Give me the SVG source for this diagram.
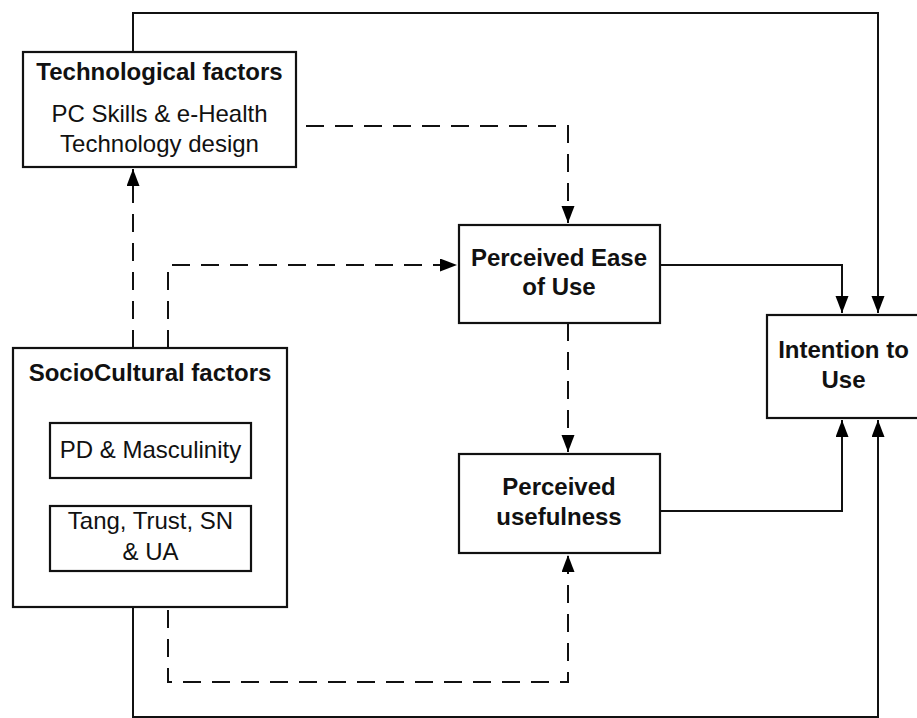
<svg xmlns="http://www.w3.org/2000/svg" width="917" height="718" viewBox="0 0 917 718">
<defs>
<marker id="ah" markerUnits="userSpaceOnUse" markerWidth="18" markerHeight="14" refX="17" refY="6.5" orient="auto">
<path d="M0,0 L17,6.5 L0,13 z" fill="#000"/>
</marker>
<style>
.box{fill:#fff;stroke:#111;stroke-width:2.2}
.t{font-family:"Liberation Sans",Arial,sans-serif;font-size:24px;fill:#111;text-anchor:middle}
.b{font-weight:bold}
.c{fill:none;stroke:#111;stroke-width:2}
.d{stroke-dasharray:18 11}
</style>
</defs>
<rect width="917" height="718" fill="#fff"/>
<g id="connectors">
<path class="c" d="M133,52 V13 H878 V313" marker-end="url(#ah)"/>
<path class="c d" d="M133,348 V169" marker-end="url(#ah)"/>
<path class="c d" d="M168,348 V265 H457" marker-end="url(#ah)"/>
<path class="c d" d="M306,126 H568 V223" marker-end="url(#ah)"/>
<path class="c" d="M660,265 H842 V313" marker-end="url(#ah)"/>
<path class="c d" d="M568,323 V452" marker-end="url(#ah)"/>
<path class="c" d="M660,511 H842 V420" marker-end="url(#ah)"/>
<path class="c d" d="M168,610 V682 H568 V555" marker-end="url(#ah)"/>
<path class="c" d="M133,571 V717 H878 V420" marker-end="url(#ah)"/>
</g>
<g id="tech">
<rect class="box" x="23" y="52" width="273" height="115"/>
<text class="t b" x="159.5" y="80">Technological factors</text>
<text class="t" x="159.5" y="122">PC Skills &amp; e-Health</text>
<text class="t" x="159.5" y="152">Technology design</text>
</g>
<g id="socio">
<rect class="box" x="13" y="348" width="274" height="259"/>
<text class="t b" x="150" y="381">SocioCultural factors</text>
</g>
<g id="pd">
<rect class="box" x="50" y="423" width="201" height="55"/>
<text class="t" x="150.5" y="458">PD &amp; Masculinity</text>
</g>
<g id="tang">
<rect class="box" x="50" y="506" width="201" height="65"/>
<text class="t" x="150.5" y="529">Tang, Trust, SN</text>
<text class="t" x="150.5" y="560">&amp; UA</text>
</g>
<g id="peou">
<rect class="box" x="459" y="225" width="201" height="98"/>
<text class="t b" x="559" y="266">Perceived Ease</text>
<text class="t b" x="559" y="295">of Use</text>
</g>
<g id="pu">
<rect class="box" x="459" y="454" width="201" height="99"/>
<text class="t b" x="559" y="495">Perceived</text>
<text class="t b" x="559" y="525">usefulness</text>
</g>
<g id="intention">
<rect class="box" x="767" y="315" width="153" height="103"/>
<text class="t b" x="843.5" y="358">Intention to</text>
<text class="t b" x="843.5" y="388">Use</text>
</g>
</svg>
